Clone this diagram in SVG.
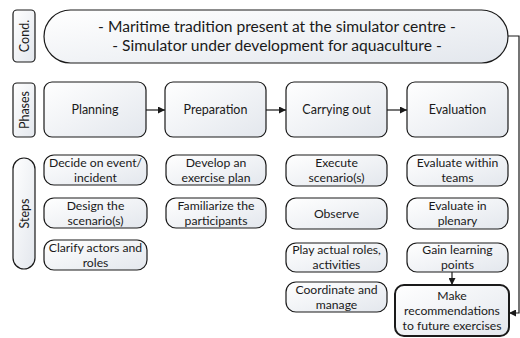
<svg xmlns="http://www.w3.org/2000/svg" width="520" height="338" viewBox="0 0 520 338">
<defs>
<linearGradient id="g" x1="0" y1="0" x2="1" y2="1">
<stop offset="0" stop-color="#ffffff"/>
<stop offset="1" stop-color="#e3e7ed"/>
</linearGradient>
<marker id="ah" viewBox="0 0 10 10" refX="10" refY="5" markerWidth="7" markerHeight="7" markerUnits="userSpaceOnUse" orient="auto">
<path d="M0,0 L10,5 L0,10 z" fill="#1a1a1a"/>
</marker>
</defs>
<style>
.box{fill:url(#g);stroke:#1a1a1a;stroke-width:1.2}
.thick{stroke-width:2}
text{font-family:Lato,"Liberation Sans",sans-serif;font-size:12.2px;fill:#1a1a1a;text-anchor:middle}
.cond{font-size:15.6px}
.ph{font-size:12.5px}
.lab{font-size:12.5px}
.conn{fill:none;stroke:#1a1a1a;stroke-width:1.2}
</style>
<g id="label-cond"><rect class="box" x="13" y="10" width="22" height="52" rx="4"/><text class="lab" transform="translate(28.5,36) rotate(-90)">Cond.</text></g>
<g id="cond"><rect class="box" x="44" y="10" width="464" height="53" rx="26.5"/><text class="cond" x="277" y="32">- Maritime tradition present at the simulator centre -</text><text class="cond" x="277" y="51">- Simulator under development for aquaculture -</text></g>
<g id="label-phases"><rect class="box" x="13" y="83" width="22" height="54" rx="4"/><text class="lab" transform="translate(28.5,110) rotate(-90)">Phases</text></g>
<g id="phase-planning"><rect class="box" x="44" y="82" width="102" height="55" rx="8"/><text class="ph" x="95" y="114">Planning</text></g>
<g id="phase-preparation"><rect class="box" x="165" y="82" width="101" height="55" rx="8"/><text class="ph" x="215.5" y="114">Preparation</text></g>
<g id="phase-carrying"><rect class="box" x="286" y="82" width="101" height="55" rx="8"/><text class="ph" x="336.5" y="114">Carrying out</text></g>
<g id="phase-evaluation"><rect class="box" x="407" y="82" width="101" height="55" rx="8"/><text class="ph" x="457.5" y="114">Evaluation</text></g>
<g id="label-steps"><rect class="box" x="13" y="158" width="22" height="111" rx="11"/><text class="lab" transform="translate(28.5,213.5) rotate(-90)">Steps</text></g>
<g id="s1"><rect class="box" x="44" y="155" width="103" height="30" rx="10"/><text x="95.5" y="167.3">Decide on event/</text><text x="95.5" y="182">incident</text></g>
<g id="s2"><rect class="box" x="44" y="198" width="103" height="30" rx="10"/><text x="95.5" y="210.3">Design the</text><text x="95.5" y="225">scenario(s)</text></g>
<g id="s3"><rect class="box" x="44" y="240" width="103" height="30" rx="10"/><text x="95.5" y="252.3">Clarify actors and</text><text x="95.5" y="267">roles</text></g>
<g id="s4"><rect class="box" x="166" y="155" width="100" height="30" rx="10"/><text x="216" y="167.3">Develop an</text><text x="216" y="182">exercise plan</text></g>
<g id="s5"><rect class="box" x="166" y="198" width="100" height="30" rx="10"/><text x="216" y="210.3">Familiarize the</text><text x="216" y="225">participants</text></g>
<g id="s6"><rect class="box" x="286" y="155" width="101" height="31" rx="10"/><text x="336.5" y="167.3">Execute</text><text x="336.5" y="182">scenario(s)</text></g>
<g id="s7"><rect class="box" x="286" y="198" width="101" height="31" rx="10"/><text x="336.5" y="217.5">Observe</text></g>
<g id="s8"><rect class="box" x="286" y="243" width="101" height="29" rx="10"/><text x="336.5" y="254.3">Play actual roles,</text><text x="336.5" y="269">activities</text></g>
<g id="s9"><rect class="box" x="286" y="282" width="101" height="30" rx="10"/><text x="336.5" y="294.3">Coordinate and</text><text x="336.5" y="309">manage</text></g>
<g id="s10"><rect class="box" x="407" y="155" width="101" height="31" rx="10"/><text x="457.5" y="167.3">Evaluate within</text><text x="457.5" y="182">teams</text></g>
<g id="s11"><rect class="box" x="407" y="198" width="101" height="31" rx="10"/><text x="457.5" y="210.3">Evaluate in</text><text x="457.5" y="225">plenary</text></g>
<g id="s12"><rect class="box" x="407" y="243" width="101" height="29" rx="10"/><text x="457.5" y="254.3">Gain learning</text><text x="457.5" y="269">points</text></g>
<g id="s13"><rect class="box thick" x="395" y="285" width="114" height="51" rx="9"/><text x="452" y="300">Make</text><text x="452" y="315">recommendations</text><text x="452" y="330">to future exercises</text></g>
<g id="connectors">
<line class="conn" x1="146" y1="110" x2="165" y2="110" marker-end="url(#ah)"/>
<line class="conn" x1="266" y1="110" x2="286" y2="110" marker-end="url(#ah)"/>
<line class="conn" x1="387" y1="110" x2="407" y2="110" marker-end="url(#ah)"/>
<line class="conn" x1="452" y1="272" x2="452" y2="285" marker-end="url(#ah)"/>
<path class="conn" d="M508,36 H519 V313 H509" marker-end="url(#ah)"/>
</g>
</svg>
